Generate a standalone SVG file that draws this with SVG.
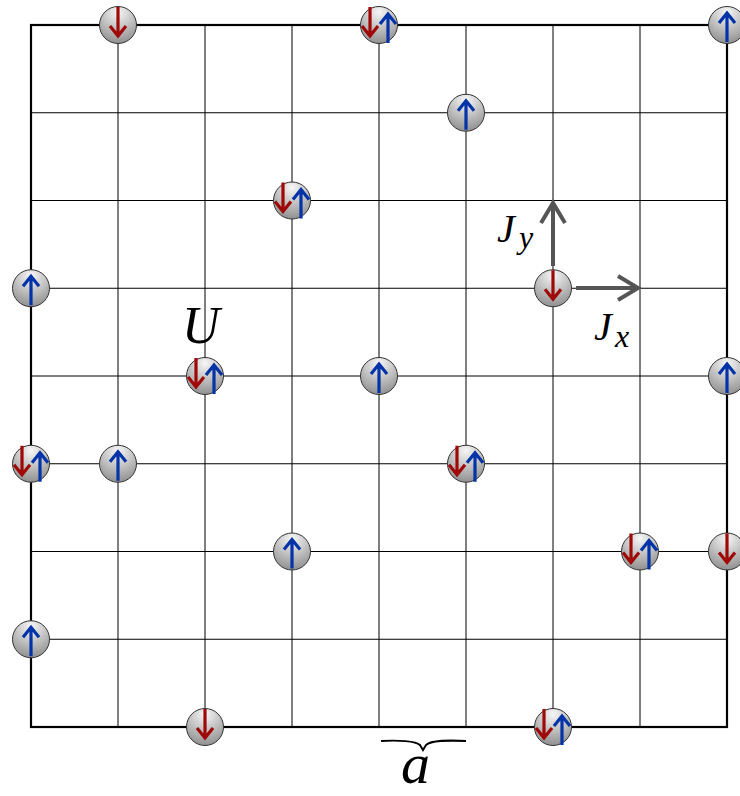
<svg xmlns="http://www.w3.org/2000/svg" xmlns:xlink="http://www.w3.org/1999/xlink" width="740" height="796" viewBox="0 0 740 796">
<style>
.grid{stroke:#000;stroke-width:1;fill:none}
.border{stroke:#000;stroke-width:2.2;fill:none}
.site{fill:url(#g);stroke:#333;stroke-width:1}
.dn{stroke:#a00808;stroke-width:3.2;fill:none;stroke-linejoin:miter}
.up{stroke:#0033a8;stroke-width:3.2;fill:none;stroke-linejoin:miter}
.j{stroke:#555;stroke-width:4;fill:none;stroke-linejoin:miter}
.lbl{font-family:"Liberation Serif","Times New Roman",serif;font-style:italic;fill:#000}
</style>
<defs>
<radialGradient id="g" cx="50%" cy="15%" r="90%">
<stop offset="0" stop-color="#f6f6f6"/>
<stop offset="1" stop-color="#8a8a8a"/>
</radialGradient>
<g id="d"><path class="dn" d="M0,-18 L0,10 M-8,1 L0,11 L8,1"/></g>
<g id="u"><path class="up" d="M0,17 L0,-12 M-8,-2 L0,-12 L8,-2"/></g>
<g id="cD"><circle class="site" r="18.5"/><use xlink:href="#d"/></g>
<g id="cU"><circle class="site" r="18.5"/><use xlink:href="#u"/></g>
<g id="cB"><circle class="site" r="18.5"/><use xlink:href="#d" x="-9"/><use xlink:href="#u" x="9" y="1"/></g>
</defs>
<rect width="740" height="796" fill="#fff"/>
<g id="lattice">
<path class="grid" d="M118,25V727M205,25V727M292,25V727M379,25V727M466,25V727M553,25V727M640,25V727M31,112.75H727M31,200.5H727M31,288.25H727M31,376H727M31,463.75H727M31,551.5H727M31,639.25H727"/>
<rect class="border" x="31" y="25" width="696" height="702"/>
</g>
<g id="connectors">
<path class="j" d="M553,266V204M541,223L553,203L565,223"/>
<path class="j" d="M576,288H637M618,276L638,288L618,300"/>
<path d="M381,741C398,740 416,741 420,745L423,750L426,745C430,741 448,740 466,741" stroke="#000" stroke-width="2" fill="none"/>
</g>
<g id="labels">
<text class="lbl" x="182" y="343" font-size="52">U</text>
<text class="lbl" x="497" y="242" font-size="40">J</text>
<text class="lbl" x="519" y="248" font-size="32">y</text>
<text class="lbl" x="594" y="340" font-size="40">J</text>
<text class="lbl" x="615" y="347" font-size="32">x</text>
<text class="lbl" x="401" y="783" font-size="58">a</text>
</g>
<g id="sites">
<use id="s1" xlink:href="#cD" x="118" y="25"/>
<use id="s2" xlink:href="#cB" x="379" y="25"/>
<use id="s3" xlink:href="#cU" x="727" y="25"/>
<use id="s4" xlink:href="#cU" x="466" y="112.75"/>
<use id="s5" xlink:href="#cB" x="292" y="200.5"/>
<use id="s6" xlink:href="#cU" x="31" y="288.25"/>
<use id="s7" xlink:href="#cD" x="553" y="288.25"/>
<use id="s8" xlink:href="#cB" x="205" y="376"/>
<use id="s9" xlink:href="#cU" x="379" y="376"/>
<use id="s10" xlink:href="#cU" x="727" y="376"/>
<use id="s11" xlink:href="#cB" x="31" y="463.75"/>
<use id="s12" xlink:href="#cU" x="118" y="463.75"/>
<use id="s13" xlink:href="#cB" x="466" y="463.75"/>
<use id="s14" xlink:href="#cU" x="292" y="551.5"/>
<use id="s15" xlink:href="#cB" x="640" y="551.5"/>
<use id="s16" xlink:href="#cD" x="727" y="551.5"/>
<use id="s17" xlink:href="#cU" x="31" y="639.25"/>
<use id="s18" xlink:href="#cD" x="205" y="727"/>
<use id="s19" xlink:href="#cB" x="553" y="727"/>
</g>
</svg>
